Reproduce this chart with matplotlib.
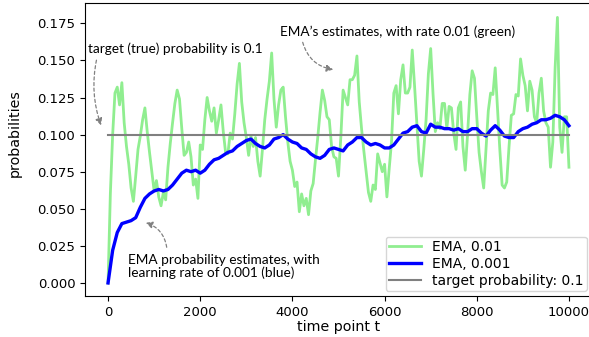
import numpy as np
import matplotlib
matplotlib.use("Agg")
import matplotlib.pyplot as plt

# EMA estimates of a Bernoulli probability, sampled every 50 steps (green) / 100 steps (blue)
green_step = 50
green_p = [
    0.000, 0.060, 0.100, 0.128, 0.132, 0.120, 0.135, 0.108, 0.092, 0.080,
    0.064, 0.055, 0.072, 0.090, 0.099, 0.110, 0.118, 0.102, 0.088, 0.075,
    0.062, 0.069, 0.058, 0.052, 0.061, 0.056, 0.078, 0.094, 0.108, 0.121,
    0.130, 0.124, 0.104, 0.086, 0.088, 0.095, 0.085, 0.066, 0.070, 0.057,
    0.093, 0.090, 0.110, 0.125, 0.116, 0.109, 0.118, 0.101, 0.110, 0.120,
    0.102, 0.088, 0.087, 0.101, 0.097, 0.114, 0.134, 0.148, 0.122, 0.108,
    0.098, 0.086, 0.099, 0.092, 0.098, 0.082, 0.072, 0.090, 0.110, 0.124,
    0.136, 0.155, 0.124, 0.105, 0.120, 0.130, 0.132, 0.112, 0.095, 0.082,
    0.076, 0.065, 0.068, 0.048, 0.060, 0.052, 0.057, 0.046, 0.062, 0.067,
    0.083, 0.098, 0.115, 0.130, 0.123, 0.112, 0.110, 0.092, 0.085, 0.084,
    0.072, 0.098, 0.130, 0.125, 0.120, 0.137, 0.137, 0.140, 0.153, 0.122,
    0.104, 0.089, 0.075, 0.061, 0.055, 0.066, 0.063, 0.087, 0.081, 0.075,
    0.080, 0.058, 0.077, 0.095, 0.128, 0.133, 0.114, 0.137, 0.147, 0.128,
    0.128, 0.132, 0.157, 0.133, 0.107, 0.082, 0.072, 0.090, 0.110, 0.141,
    0.158, 0.128, 0.102, 0.108, 0.104, 0.121, 0.121, 0.104, 0.119, 0.118,
    0.101, 0.090, 0.118, 0.122, 0.092, 0.076, 0.100, 0.127, 0.143, 0.138,
    0.112, 0.088, 0.075, 0.064, 0.090, 0.116, 0.128, 0.127, 0.145, 0.118,
    0.090, 0.066, 0.064, 0.068, 0.092, 0.113, 0.114, 0.127, 0.126, 0.151,
    0.140, 0.133, 0.116, 0.136, 0.130, 0.112, 0.108, 0.128, 0.138, 0.116,
    0.108, 0.105, 0.078, 0.095, 0.145, 0.179, 0.105, 0.088, 0.112, 0.112,
    0.078,
]

blue_step = 100
blue_p = [
    0.000, 0.022, 0.034, 0.040, 0.041, 0.042, 0.044, 0.051, 0.057, 0.060,
    0.062, 0.063, 0.062, 0.063, 0.066, 0.070, 0.074, 0.076, 0.075, 0.076,
    0.074, 0.076, 0.080, 0.083, 0.084, 0.086, 0.088, 0.089, 0.092, 0.094,
    0.096, 0.097, 0.094, 0.092, 0.091, 0.093, 0.097, 0.098, 0.100, 0.097,
    0.095, 0.094, 0.091, 0.090, 0.087, 0.085, 0.084, 0.086, 0.090, 0.091,
    0.090, 0.089, 0.093, 0.095, 0.098, 0.098, 0.095, 0.093, 0.094, 0.093,
    0.091, 0.091, 0.093, 0.097, 0.101, 0.102, 0.105, 0.106, 0.102, 0.101,
    0.107, 0.105, 0.105, 0.104, 0.104, 0.103, 0.104, 0.102, 0.102, 0.104,
    0.104, 0.101, 0.099, 0.103, 0.106, 0.103, 0.099, 0.098, 0.098, 0.102,
    0.104, 0.105, 0.107, 0.108, 0.110, 0.110, 0.111, 0.113, 0.112, 0.110,
    0.106,
]

target = 0.1
n_steps = 10000

t_green = np.arange(len(green_p)) * green_step
t_blue = np.arange(len(blue_p)) * blue_step

fig = plt.figure(figsize=(5.89, 3.37), dpi=100)
ax = fig.add_axes([85 / 589, 41 / 337, 507 / 589, 293 / 337])

ax.plot(t_green, green_p, color="lightgreen", lw=2.0, label="EMA, 0.01")
ax.plot(t_blue, blue_p, color="blue", lw=2.4, label="EMA, 0.001")
ax.plot([0, n_steps], [target, target], color="gray", lw=1.5,
        label="target probability: 0.1")

ax.set_xlim(-500, 10500)
ax.set_ylim(-0.0088, 0.1887)
ax.set_xticks(np.arange(0, 10001, 2000))
ax.set_yticks(np.arange(0, 0.176, 0.025))
ax.yaxis.set_major_formatter(matplotlib.ticker.FormatStrFormatter("%.3f"))
ax.tick_params(labelsize=9.5)
ax.set_xlabel("time point t", fontsize=10.3, labelpad=1)
fig.text(15 / 589, 1 - 133 / 337, "probabilities", rotation=90,
         ha="center", va="center", fontsize=10.3)

ax.legend(loc="lower right", fontsize=10, handlelength=2.3,
          labelspacing=0.2, borderpad=0.25, borderaxespad=0.35)

note_font = dict(family=["Lato", "DejaVu Sans"], fontsize=9.8)
arrow_kw = dict(arrowstyle="-|>", color="gray", lw=0.9, ls=(0, (2.5, 2)),
                mutation_scale=10)

ax.text(-434, 0.158, "target (true) probability is 0.1", ha="left",
        va="center", **note_font)
ax.annotate("", xy=(-130, 0.1045), xytext=(-239, 0.152),
            arrowprops=dict(connectionstyle="arc3,rad=0.15", **arrow_kw))

ax.text(3731, 0.169, "EMA\u2019s estimates, with rate 0.01 (green)",
        ha="left", va="center", **note_font)
ax.annotate("", xy=(4945, 0.1436), xytext=(4208, 0.164),
            arrowprops=dict(connectionstyle="arc3,rad=0.35", **arrow_kw))

ax.text(434, 0.0111,
        "EMA probability estimates, with\nlearning rate of 0.001 (blue)",
        ha="left", va="center", linespacing=1.1, **note_font)
ax.annotate("", xy=(759, 0.0411), xytext=(1280, 0.0222),
            arrowprops=dict(connectionstyle="arc3,rad=0.35", **arrow_kw))

fig.savefig("out.png", dpi=100)
